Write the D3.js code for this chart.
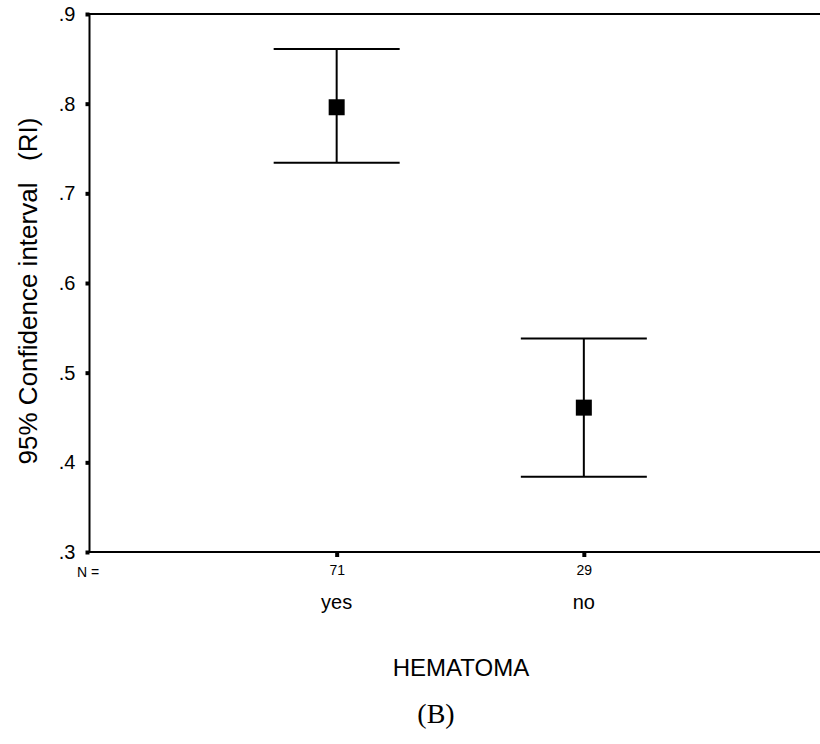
<!DOCTYPE html>
<html>
<head>
<meta charset="utf-8">
<script src="https://cdn.jsdelivr.net/npm/d3@7"></script>
<style>
  html, body { margin: 0; padding: 0; background: #fff; }
  svg { display: block; }
  text { font-family: "Liberation Sans", Arial, sans-serif; fill: #000; }
</style>
</head>
<body>
<svg id="chart" width="820" height="744"></svg>
<script>
// Groups and their sample sizes
const categories = ["yes", "no"];
const counts = [71, 29];
// Mean RI and 95% confidence limits per group
const means = [0.796, 0.461];
const lower = [0.734, 0.384];
const upper = [0.861, 0.538];
// Y-axis ticks
const yTicks = [0.3, 0.4, 0.5, 0.6, 0.7, 0.8, 0.9];

const svg = d3.select("#chart");
const plotLeft = 89.5, plotTop = 14, plotBottom = 552, plotRight = 831;

const y = d3.scaleLinear().domain([0.3, 0.9]).range([plotBottom, plotTop]);
const x = d3.scalePoint().domain(categories).range([plotLeft, plotRight]).padding(1);

const fmt = v => d3.format(".1f")(v).replace(/^0/, "");

// Frame: left axis, top and bottom rules
const frame = svg.append("g").attr("stroke", "#000").attr("stroke-width", 2);
frame.append("line").attr("x1", plotLeft).attr("x2", plotLeft).attr("y1", plotTop).attr("y2", plotBottom);
frame.append("line").attr("x1", plotLeft - 1).attr("x2", 820).attr("y1", plotTop).attr("y2", plotTop);
frame.append("line").attr("x1", plotLeft - 1).attr("x2", 820).attr("y1", plotBottom).attr("y2", plotBottom);

// Y axis with small square ticks
const yAxis = d3.axisLeft(y).tickValues(yTicks).tickFormat(fmt).tickSizeInner(4).tickSizeOuter(0).tickPadding(10);
const gy = svg.append("g").attr("transform", `translate(${plotLeft},0)`).call(yAxis);
gy.select(".domain").remove();
gy.selectAll(".tick line").attr("stroke", "#000").attr("stroke-width", 4);
gy.selectAll(".tick text").style("font-size", "20px");

// X axis: square ticks with group sizes beneath
const xAxis = d3.axisBottom(x).tickSizeInner(5).tickSizeOuter(0).tickPadding(8)
  .tickFormat(d => counts[categories.indexOf(d)]);
const gx = svg.append("g").attr("transform", `translate(0,${plotBottom})`).call(xAxis);
gx.select(".domain").remove();
gx.selectAll(".tick line").attr("stroke", "#000").attr("stroke-width", 4);
gx.selectAll(".tick text").style("font-size", "14px");

svg.append("text").attr("x", 77).attr("y", 577).style("font-size", "14px").text("N =");

// Category names
svg.append("g").selectAll("text").data(categories).join("text")
  .attr("x", d => x(d)).attr("y", 609).attr("text-anchor", "middle")
  .style("font-size", "20px").text(d => d);

// Error bars
const capHalf = 63;
const bars = svg.append("g").selectAll("g").data(categories).join("g")
  .attr("stroke", "#000").attr("stroke-width", 2);
bars.append("line").attr("x1", d => x(d)).attr("x2", d => x(d))
  .attr("y1", (d, i) => y(upper[i])).attr("y2", (d, i) => y(lower[i]));
bars.append("line").attr("x1", d => x(d) - capHalf).attr("x2", d => x(d) + capHalf)
  .attr("y1", (d, i) => y(upper[i])).attr("y2", (d, i) => y(upper[i]));
bars.append("line").attr("x1", d => x(d) - capHalf).attr("x2", d => x(d) + capHalf)
  .attr("y1", (d, i) => y(lower[i])).attr("y2", (d, i) => y(lower[i]));

// Mean markers
const ms = 16;
svg.append("g").selectAll("rect").data(categories).join("rect")
  .attr("x", d => x(d) - ms / 2).attr("y", (d, i) => y(means[i]) - ms / 2)
  .attr("width", ms).attr("height", ms).attr("fill", "#000");

// Axis titles
svg.append("text")
  .attr("transform", "translate(37,291) rotate(-90)")
  .attr("text-anchor", "middle").style("font-size", "26px")
  .style("white-space", "pre")
  .text("95% Confidence interval   (RI)");

svg.append("text").attr("x", 461).attr("y", 676).attr("text-anchor", "middle")
  .style("font-size", "24px").text("HEMATOMA");

svg.append("text").attr("x", 436).attr("y", 723).attr("text-anchor", "middle")
  .style("font-size", "28px").style("font-family", "'Liberation Serif', 'Times New Roman', serif")
  .text("(B)");
</script>
</body>
</html>
